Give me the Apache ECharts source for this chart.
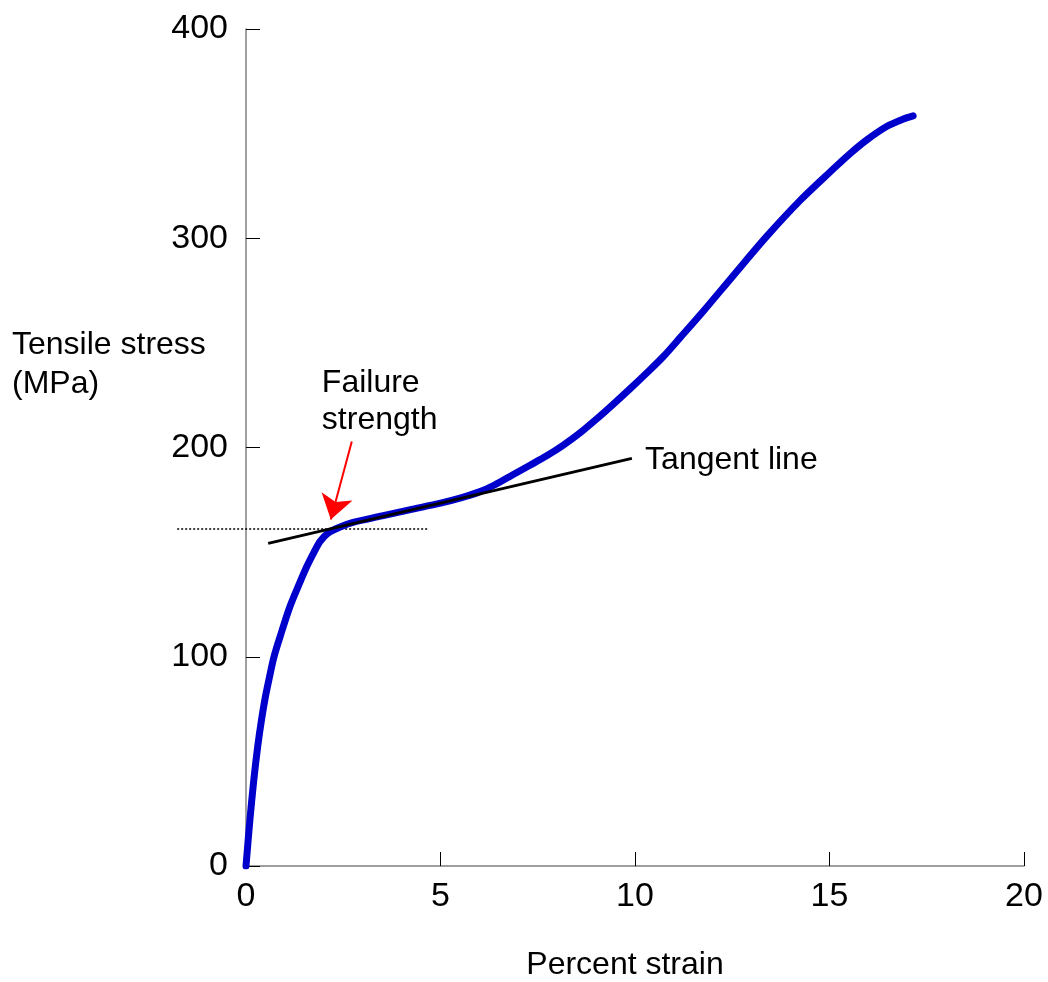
<!DOCTYPE html>
<html>
<head>
<meta charset="utf-8">
<title>Tensile stress vs. percent strain</title>
<script src="https://cdn.jsdelivr.net/npm/echarts@6/dist/echarts.min.js"></script>
<style>
  html, body { margin: 0; padding: 0; background: #ffffff; }
  #chart { width: 1048px; height: 982px; }
</style>
</head>
<body>
<div id="chart"></div>
<script>
// Stress–strain measurement
const strain = [0, 0.1, 0.2, 0.3, 0.4, 0.5, 0.6, 0.72, 0.9, 1.13, 1.35, 1.56, 1.75, 1.9, 2.1, 2.42, 2.75, 3.5, 4.2, 5.0, 5.5, 6.0, 6.4, 6.86, 7.3, 7.73, 8.15, 8.59, 9.0, 9.43, 9.87, 10.3, 10.73, 11.16, 11.75, 12.52, 13.39, 14.24, 15.09, 15.5, 15.96, 16.48, 16.9, 17.15];
const stress = [0, 22, 41, 57, 70, 81, 90, 100, 111, 124, 134, 143, 150, 155, 159, 162, 164.2, 167.3, 170.2, 173.4, 175.8, 178.8, 182.2, 187, 191.5, 196, 201, 207, 213.4, 220.5, 228, 235.6, 243.5, 252.5, 265, 282, 301, 318, 333, 340, 347, 353.5, 357, 358.5];

// Construction lines
const tangentLine = [[0.57, 154.2], [9.92, 194.8]];
const failureGuide = [[-1.77, 161.4], [4.68, 161.4]];
const failureArrow = [[2.72, 202.9], [2.18, 165.6]];

// Axis ranges and tick steps
const xRange = [0, 20];
const xStep = 5;
const yRange = [0, 400];
const yStep = 100;

// Text
const xTitle = 'Percent strain';
const yTitle = 'Tensile stress\n(MPa)';
const noteAnchors = [[1.95, 222], [10.26, 194]];
const noteTexts = ['Failure\nstrength', 'Tangent line'];

const FONT = '"Liberation Sans", Arial, Helvetica, sans-serif';
const chart = echarts.init(document.getElementById('chart'), null, { renderer: 'canvas' });

const axisCommon = {
  axisLine: { show: true, lineStyle: { color: '#808080', width: 1.5 } },
  axisTick: { show: true, inside: true, length: 14, lineStyle: { color: '#000', width: 1 } },
  splitLine: { show: false },
  axisLabel: { color: '#000', fontSize: 34, fontFamily: FONT }
};

chart.setOption({
  animation: false,
  backgroundColor: '#ffffff',
  grid: { left: 246, right: 24, top: 29, bottom: 116, containLabel: false },
  xAxis: Object.assign({}, axisCommon, {
    type: 'value', min: xRange[0], max: xRange[1], interval: xStep,
    axisLabel: Object.assign({}, axisCommon.axisLabel, { margin: 14 })
  }),
  yAxis: Object.assign({}, axisCommon, {
    type: 'value', min: yRange[0], max: yRange[1], interval: yStep,
    axisLabel: Object.assign({}, axisCommon.axisLabel, { margin: 18 })
  }),
  series: [
    {
      name: 'guide',
      type: 'lines',
      coordinateSystem: 'cartesian2d',
      clip: false,
      symbol: 'none',
      lineStyle: { color: '#000', width: 1.5, type: [2, 2], opacity: 1 },
      data: [{ coords: failureGuide }],
      z: 1
    },
    {
      name: 'stress',
      type: 'line',
      data: strain.map((s, i) => [s, stress[i]]),
      symbol: 'none',
      smooth: 0.3,
      lineStyle: { color: '#0000cc', width: 7, cap: 'round', join: 'round' },
      z: 2
    },
    {
      name: 'tangent',
      type: 'line',
      data: tangentLine,
      symbol: 'none',
      lineStyle: { color: '#000', width: 3 },
      z: 3
    },
    {
      name: 'arrow',
      type: 'lines',
      coordinateSystem: 'cartesian2d',
      symbol: ['none', 'arrow'],
      symbolSize: 24,
      lineStyle: { color: '#ff0000', width: 2, opacity: 1, curveness: 0 },
      itemStyle: { color: '#ff0000' },
      data: [{ coords: failureArrow }],
      z: 4
    }
  ]
});

// Axis titles and annotations; annotation anchors are placed through the grid's scales
const texts = [
  {
    type: 'text', left: 12, top: 326,
    style: { text: yTitle, font: '32px ' + FONT, fill: '#000', lineHeight: 39 }
  },
  {
    type: 'text', x: 625, y: 965,
    style: {
      text: xTitle, font: '32px ' + FONT, fill: '#000',
      align: 'center', verticalAlign: 'middle',
      textAlign: 'center', textVerticalAlign: 'middle'
    }
  }
];
noteAnchors.forEach((p, i) => {
  const px = chart.convertToPixel({ gridIndex: 0 }, p);
  texts.push({
    type: 'text', x: px[0], y: px[1],
    style: {
      text: noteTexts[i], font: '32px ' + FONT, fill: '#000', lineHeight: 37,
      align: 'left', verticalAlign: 'middle',
      textAlign: 'left', textVerticalAlign: 'middle'
    }
  });
});
chart.setOption({ graphic: texts });
</script>
</body>
</html>
